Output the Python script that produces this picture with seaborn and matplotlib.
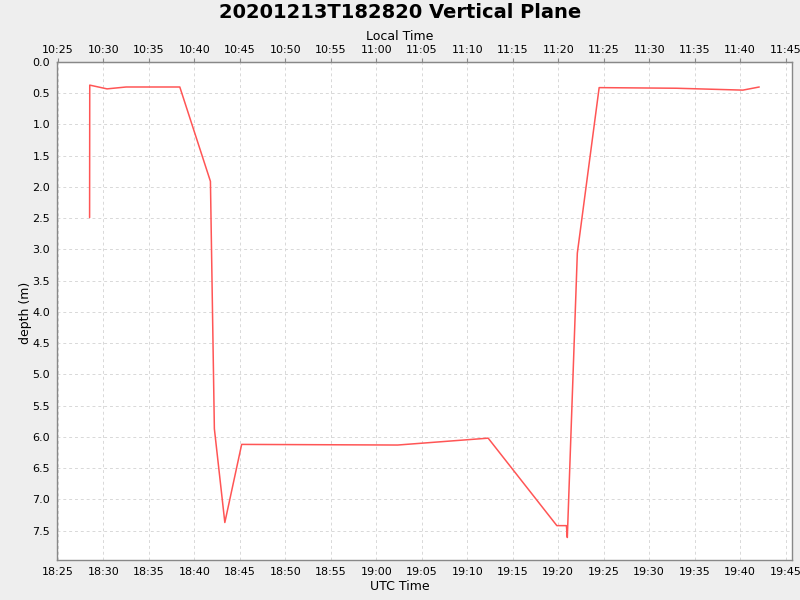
import pandas as pd
import matplotlib
matplotlib.use("Agg")
import matplotlib.pyplot as plt
import matplotlib.dates as mdates
import seaborn as sns

# Depth profile (UTC times)
utc_times = ["18:28:29", "18:28:30", "18:30:24", "18:32:30", "18:38:24", "18:41:46",
             "18:42:12", "18:43:21", "18:45:12", "19:02:21", "19:12:18", "19:19:51",
             "19:20:54", "19:21:00", "19:22:06", "19:24:30", "19:33:00", "19:40:18",
             "19:42:06"]
depth_m = [2.49, 0.37, 0.43, 0.40, 0.40, 1.91,
           5.87, 7.37, 6.12, 6.13, 6.02, 7.42,
           7.42, 7.61, 3.06, 0.41, 0.42, 0.45,
           0.40]
depth_ticks = [0.0, 0.5, 1.0, 1.5, 2.0, 2.5, 3.0, 3.5, 4.0, 4.5, 5.0, 5.5, 6.0, 6.5, 7.0, 7.5]
local_offset_hours = -8

df = pd.DataFrame({
    "time": pd.to_datetime("2020-12-13 " + pd.Series(utc_times)),
    "depth": depth_m,
})

sns.set_style("white")
plt.rcParams['font.family'] = ['DejaVu Sans']
plt.rcParams['text.color'] = 'black'
plt.rcParams['xtick.color'] = '#888888'
plt.rcParams['ytick.color'] = '#888888'
plt.rcParams['xtick.labelcolor'] = 'black'
plt.rcParams['ytick.labelcolor'] = 'black'

fig = plt.figure(figsize=(8, 6), dpi=100, facecolor="#eeeeee")
ax = fig.add_axes([57 / 800, 40 / 600, 735 / 800, 498 / 600])
ax.set_facecolor("white")

sns.lineplot(data=df, x="time", y="depth", sort=False, estimator=None,
             color="#ff5555", linewidth=1.1, ax=ax)

ax.set_xlim(pd.Timestamp("2020-12-13 18:24:54"), pd.Timestamp("2020-12-13 19:45:42"))
ax.set_ylim(7.97, 0)
ax.set_yticks(depth_ticks)
ax.yaxis.set_major_formatter(matplotlib.ticker.FormatStrFormatter("%.1f"))

loc = mdates.MinuteLocator(byminute=range(0, 60, 5))
ax.xaxis.set_major_locator(loc)
ax.xaxis.set_major_formatter(mdates.DateFormatter("%H:%M"))

ax.grid(True, color="#d8d8d8", linestyle=(0, (3, 3)), linewidth=0.7)
for side in ["left", "bottom", "top", "right"]:
    ax.spines[side].set_color("#888888")
    ax.spines[side].set_linewidth(1.0)
ax.tick_params(axis="both", labelsize=8, length=3, color="#888888", labelcolor="black", pad=2)

off = local_offset_hours / 24
sec = ax.secondary_xaxis("top", functions=(lambda x: x + off, lambda x: x - off))
sec.xaxis.set_major_locator(mdates.MinuteLocator(byminute=range(0, 60, 5)))
sec.xaxis.set_major_formatter(mdates.DateFormatter("%H:%M"))
sec.tick_params(labelsize=8, length=3, color="#888888", labelcolor="black", pad=2)
sec.spines["top"].set_color("#888888")

ax.set_xlabel("")
ax.set_ylabel("")
fig.text(0.5, 1 - 12 / 600, "20201213T182820 Vertical Plane", ha="center", va="center",
         fontsize=14, fontweight="bold", color="black")
fig.text(0.5, 1 - 36 / 600, "Local Time", ha="center", va="center", fontsize=9, color="black")
fig.text(0.5, 1 - 586 / 600, "UTC Time", ha="center", va="center", fontsize=9, color="black")
fig.text(25 / 800, 1 - 313 / 600, "depth (m)", ha="center", va="center", fontsize=9,
         rotation=90, color="black")

fig.savefig("out.png", dpi=100, facecolor=fig.get_facecolor())
